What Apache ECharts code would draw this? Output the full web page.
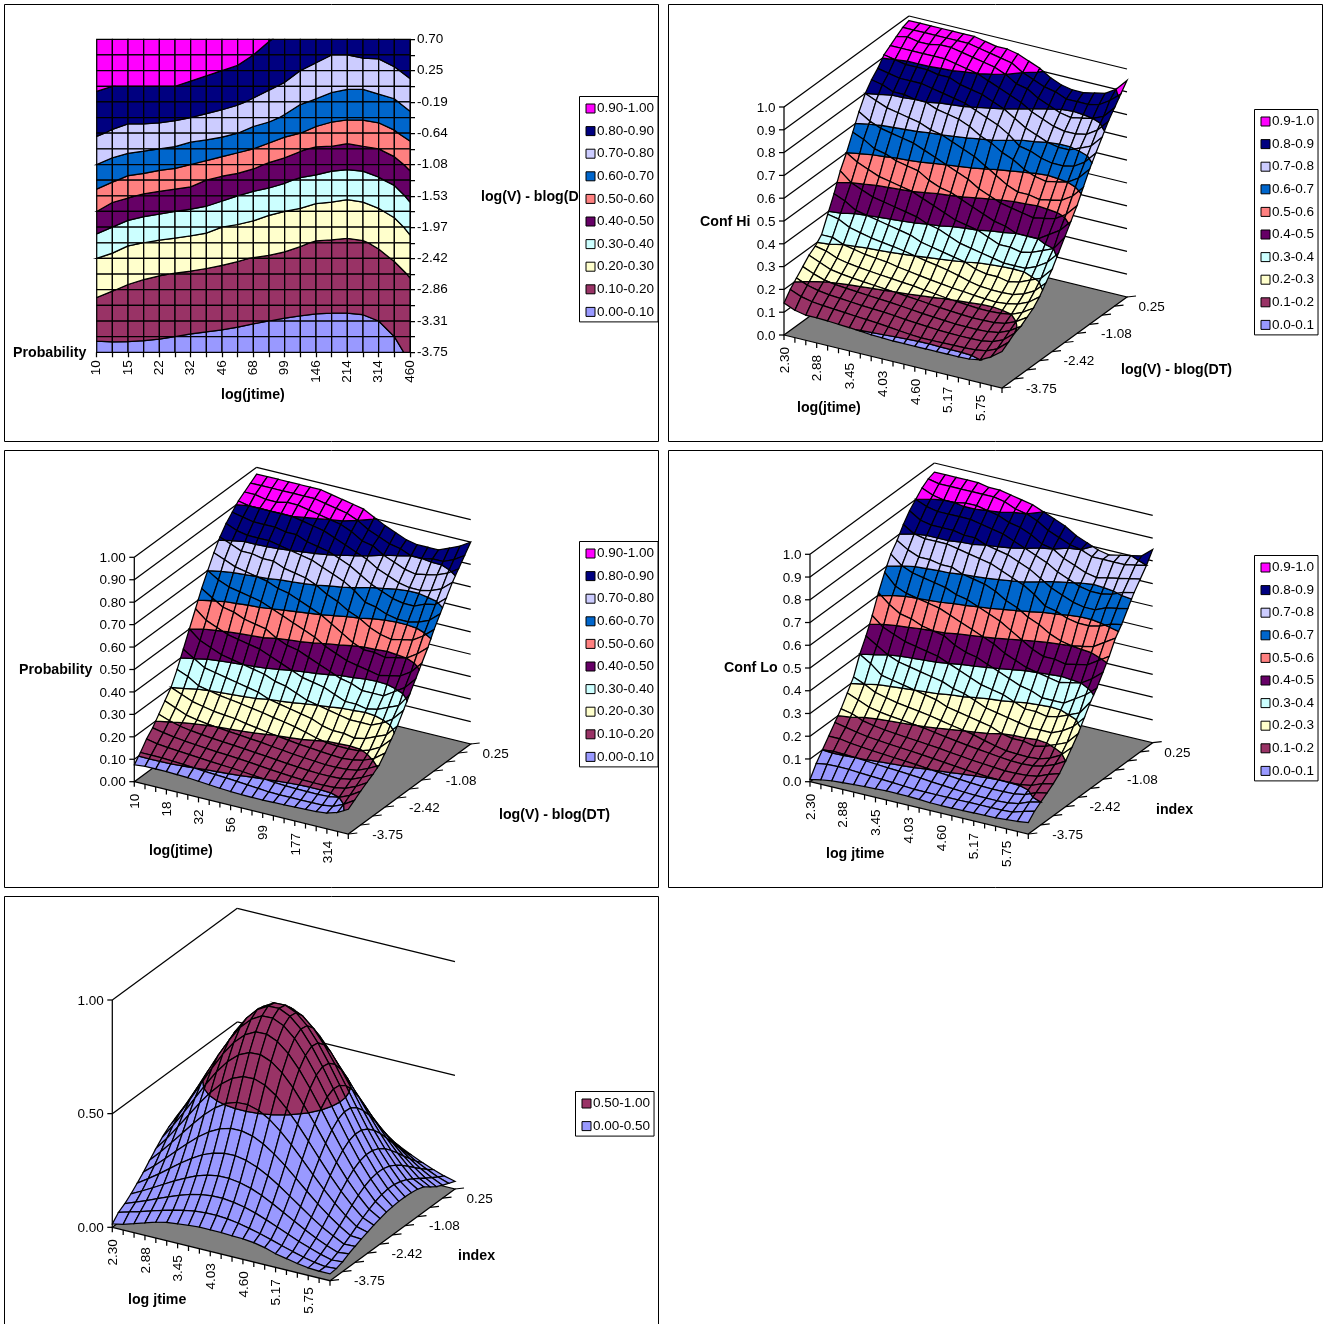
<!DOCTYPE html>
<html><head><meta charset="utf-8">
<style>html,body{margin:0;padding:0;background:#fff;overflow:hidden}#c{width:1329px;height:1324px}</style>
<script src="https://cdn.jsdelivr.net/npm/echarts@6/dist/echarts.min.js"></script>
</head><body><div id="c"></div>
<script>
// ---- categories and tick labels ----
const jtime = ['10','12','15','18','22','27','32','38','46','56','68','82','99','121','146','177','214','259','314','380','460'];
const logJtime = ['2.30','2.49','2.69','2.88','3.07','3.26','3.45','3.64','3.84','4.03','4.22','4.41','4.60','4.79','4.98','5.17','5.36','5.56','5.75','5.94','6.13'];
const logV = ['0.70','0.48','0.25','0.03','-0.19','-0.42','-0.64','-0.86','-1.08','-1.31','-1.53','-1.75','-1.97','-2.20','-2.42','-2.64','-2.86','-3.09','-3.31','-3.53','-3.75'];
const bandNames2 = ['0.90-1.00','0.80-0.90','0.70-0.80','0.60-0.70','0.50-0.60','0.40-0.50','0.30-0.40','0.20-0.30','0.10-0.20','0.00-0.10'];
const bandNames1 = ['0.9-1.0','0.8-0.9','0.7-0.8','0.6-0.7','0.5-0.6','0.4-0.5','0.3-0.4','0.2-0.3','0.1-0.2','0.0-0.1'];
const bandNamesBell = ['0.50-1.00','0.00-0.50'];
const bandColors = ['#FF00FF','#000080','#CCCCFF','#0066CC','#FF8080','#660066','#CCFFFF','#FFFFCC','#993366','#9999FF'];
const bellColors = ['#993366','#9999FF'];
const tenBands = [100,90,80,70,60,50,40,30,20,10,0];
const bellBands = [100,50,0];

// ---- surface values in percent ----
// *Upper: one list per log(jtime) column, log(V) rows 0-12.  *Lower: one list per log(V) row 13-20, across the columns.
const probabilityUpper = [
[97,95,93,91,88,85,81,76,70,64,57,50,43],
[97,95,93,90,87,83,79,74,67,61,53,46,40],
[97,95,92,90,86,82,77,72,65,58,51,44,37],
[97,95,92,90,86,82,77,71,64,57,49,42,36],
[97,95,93,90,86,82,76,70,63,55,48,41,35],
[97,95,93,90,85,81,76,69,62,54,47,40,34],
[97,95,92,89,85,80,74,67,60,53,46,39,33],
[96,94,91,88,83,79,73,66,58,50,44,38,32],
[95,93,90,87,82,78,72,64,56,48,42,36,30],
[94,92,89,85,81,76,70,62,54,47,40,35,29],
[93,90,87,83,79,74,67,60,52,45,38,33,28],
[90.5,87,84,81,77,72,65,57,49,43,37,31,27],
[88,85,83,79,74,69,62,54,47,41,36,30,26],
[86,83,80,76,71,65,60,51,45,39,34,29,24],
[84,82,78,74,69,64,57,49,44,38,32,28,23],
[83,80,76,72,67,62,55,49,43,36,32,27,23],
[83,80,75,71,66,61,54,48,42,36,31,27,22],
[83,81,76,71,66,61,55,49,43,36,32,27,23],
[85,81,77,72,68,62,56,50,44,39,34,29,25],
[87,83,79,74,69,64,59,53,47,42,36,32,27],
[90,86,82,78,73,68,63,57,52,47,42,37,32]];
const probabilityLower = [
[36,34,31,30,29,28.3,27.6,26.8,26,25,24.2,23.2,22,20.6,19.6,19.3,19.2,19.5,21,23.5,28],
[30,28,26,25,24,23.5,23,22,21.3,20.5,19.8,19.2,18.6,18.2,17.7,17.3,17,17.5,18.5,20.5,24],
[26,24,22,21,20.3,19.8,19.3,18.9,18.4,18,17.3,16.8,16.2,15.8,15.4,15,15,15.3,16,18,20.5],
[22,20.3,19,18.2,17.6,17.1,16.7,16.3,15.9,15.4,15,14.5,14,13.6,13.2,13,13,13.2,14,16,18.5],
[18,17,16.2,15.6,15.1,14.7,14.3,14,13.6,13.2,12.7,12.2,11.8,11.4,11.1,11,11,11.2,12,14,16.8],
[15,14,13.5,13.1,12.7,12.3,11.9,11.6,11.3,10.9,10.4,10,9.6,9.3,9.1,9,9,9.2,10,12,15],
[11,11,10.9,10.7,10.4,10,9.6,9.3,9,8.6,8.2,7.8,7.4,7.3,7.3,7.3,7.3,7.4,8,10,13],
[7.5,8,8,8,7.8,7.6,7.2,6.8,6.4,6.1,5.9,5.8,5.8,5.9,6,6.2,6.3,6.5,7,8.5,11]];
const confHiUpper = [
[98,97,95,93,91,87,84,80,74,67,60,54,46],
[98,97,96,93,90,86,83,78,71,65,57,50,44],
[98,97,95,93,89,85,81,76,69,62,55,48,41],
[98,97,95,93,89,85,81,75,68,61,53,46,40],
[98,97,96,93,89,85,80,74,67,59,52,45,39],
[98,97,96,93,88,84,80,73,66,58,51,44,38],
[98,97,95,92,88,83,78,71,64,57,50,43,37],
[97,96,94,91,86,82,77,70,62,54,48,42,36],
[96,95,93,90,85,81,76,68,60,52,46,40,34],
[96,94,92,88,84,79,74,66,58,51,44,39,33],
[95,93,90,86,82,77,71,64,56,49,42,37,32],
[93,90,87,84,80,75,69,61,53,47,41,35,31],
[91,88,86,82,77,72,66,58,51,45,40,34,30],
[88,86,83,79,74,68,64,55,49,43,38,33,28],
[86,85,81,77,72,67,61,53,48,42,36,32,27],
[85,83,79,75,70,65,59,53,47,40,36,31,27],
[85,83,78,74,69,64,58,52,46,40,35,31,26],
[86,83,79,74,69,64,59,53,47,40,36,31,27],
[87,84,80,75,71,65,60,54,48,43,38,33,29],
[90,87,82,78,73,68,63,57,51,46,40,36,31],
[95,91,87,83,78,73,68,62,56,51,46,41,36]];
const confHiLower = [
[39,38,35.5,34.3,33.2,32.5,31.8,31,30,29,28.2,27.2,26,24.6,23.6,23.3,23.2,23.5,25,27.5,32],
[32,32,30,29,28,27.5,27,26,25.3,24.5,23.8,23.2,22.6,22.2,21.7,21.3,21,21.5,22.5,24.5,28],
[29,28,26,25,24.3,23.8,23.3,22.9,22.4,22,21.3,20.8,20.2,19.8,19.4,19,19,19.3,20,22,25],
[27,25,23,22.2,21.6,21.1,20.7,20.3,19.9,19.4,19,18.5,18,17.6,17.2,17,17,17.2,18,20,23],
[24,22,20.4,19.6,19.1,18.7,18.3,18,17.6,17.2,16.7,16.2,15.8,15.4,15.1,15,15,15.2,16,18,21],
[21,19,17.8,17.1,16.7,16.3,15.9,15.6,15.3,14.9,14.4,14,13.6,13.3,13.1,13,13,13.2,14,16,20],
[18,16,14.9,14.4,14,13.6,13.2,12.9,12.5,12,11.5,11,10.7,10.7,10.8,10.9,11,11.2,12,14,18],
[14,12,11,11,10.8,10.5,10.2,9.8,9.4,9.2,9,9,9,9,9,9,9,9.2,10,12.5,16]];
const confLoUpper = [
[96,95,93,90,87,83,78,74,68,61,53,46,40],
[96,94,91,88,84,80,75,70,63,57,49,43,37],
[96,94,90,87,83,79,73,68,61,54,47,40,33],
[96,94,90,87,83,79,73,67,60,53,45,38,32],
[96,94,91,87,83,79,72,66,59,51,44,37,31],
[95,94,91,87,82,78,72,65,58,50,43,36,30],
[95,94,90,86,82,77,70,63,56,49,42,35,29],
[94,93,89,85,80,76,69,62,54,46,40,34,28],
[93,91,87,84,79,75,68,60,52,44,38,32,26],
[92,90,86,82,78,73,66,58,50,43,36,31,25],
[90,88,84,80,76,71,63,56,48,41,34,29,24],
[88,85,81,78,74,69,61,53,45,39,33,27,23],
[86,83,80,76,71,66,58,50,43,37,32,26,22],
[83,81,77,73,68,62,56,47,41,35,30,25,20],
[81,80,75,71,66,61,53,45,40,34,28,24,19],
[79,78,73,69,64,59,51,45,39,32,28,23,19],
[78,78,72,68,63,58,50,44,38,32,27,23,18],
[79,78,73,68,63,58,51,45,39,32,28,23,19],
[80,78,74,69,65,59,52,46,40,35,30,25,21],
[81,79,75,71,66,61,55,49,43,38,32,28,23],
[85,80,76,72,67,62,58,52,47,42,38,33,28]];
const confLoLower = [
[32,30,27.5,26.3,25.2,24.5,23.8,23,22,21,20.2,19.2,17.8,16.6,15.6,15.3,15.2,15.5,17,19.5,24],
[27,25,23,22,21.3,20.8,20.2,19.6,18.8,18,17.3,16.6,16,15.4,14.8,14.4,14.2,14.5,15.5,17.3,20],
[22,21,19,18,17.3,16.8,16.3,15.9,15.4,15,14.3,13.8,13.2,12.8,12.4,12,12,12.3,13,15,16.5],
[18,17,16,15.2,14.7,14.2,13.8,13.4,13,12.5,12,11.5,11,10.6,10.2,10,10,10.2,11,13,14],
[14,14,13.2,12.7,12.2,11.8,11.4,11.1,10.7,10.2,9.7,9.3,8.8,8.4,8.1,8,8,8.2,9,11,12],
[10,10.5,10.3,10,9.7,9.3,9,8.7,8.3,7.9,7.4,7,6.6,6.3,6.1,6,6,6.2,7,9,10],
[6,6.8,6.9,6.8,6.5,6.2,5.9,5.6,5.3,5,4.9,4.9,4.9,4.9,5,5,5,5,5.3,6.8,8],
[1,2,2.7,3,3.3,3.6,3.8,4,4,3.9,3.7,3.4,3.3,3.3,3.4,3.5,3.6,3.7,4,4.4,5]];
// bell surface: one list per log(V) row, across the log jtime columns
const bellRows = [
[7.7,9.8,12.1,14.5,16.9,19.1,21,22.3,23.1,23.2,22.5,21.3,19.5,17.4,15.1,12.6,10.3,8.1,6.2,4.6,3.4],
[10.2,13,16.1,19.2,22.4,25.3,27.8,29.6,30.5,30.6,29.8,28.2,25.8,23,19.9,16.7,13.6,10.7,8.3,6.1,4.5],
[13.1,16.7,20.6,24.7,28.8,32.5,35.7,37.9,39.2,39.3,38.3,36.2,33.2,29.6,25.6,21.4,17.5,13.8,10.6,7.9,5.7],
[16.2,20.6,25.5,30.5,35.6,40.2,44.1,46.9,48.5,48.6,47.3,44.7,41,36.5,31.6,26.5,21.6,17,13.1,9.7,7.1],
[19.4,24.7,30.4,36.5,42.5,48,52.7,56,57.9,58.1,56.5,53.4,49,43.7,37.8,31.7,25.8,20.4,15.7,11.6,9],
[22.4,28.5,35.1,42.1,49.1,55.4,60.8,64.7,66.9,67.1,65.3,61.7,56.6,50.4,43.6,36.6,29.8,23.5,18.1,13.4,11],
[25,31.8,39.2,47,54.8,61.9,67.9,72.2,74.6,74.9,72.8,68.9,63.2,56.3,48.7,40.8,33.2,26.3,20.2,15,12],
[26.9,34.3,42.3,50.7,59.1,66.7,73.2,77.9,80.5,80.7,78.6,74.3,68.1,60.7,52.5,44,35.8,28.3,21.8,16.2,12.5],
[28.1,35.7,44.1,52.9,61.5,69.5,76.3,81.2,83.9,84.1,81.9,77.4,71,63.2,54.7,45.9,37.3,29.5,22.7,16.9,12.7],
[28.3,36,44.4,53.2,62,70,76.8,81.8,84.5,84.7,82.4,77.9,71.5,63.7,55.1,46.2,37.6,29.7,22.8,17,12.7],
[27.5,35,43.2,51.8,60.3,68.1,74.8,79.5,82.2,82.4,80.2,75.8,69.5,62,53.6,44.9,36.6,28.9,22.2,16.5,12.4],
[25.8,32.9,40.6,48.7,56.6,64,70.2,74.7,77.2,77.4,75.3,71.2,65.3,58.2,50.4,42.2,34.4,27.2,20.9,15.5,12],
[23.5,29.9,36.9,44.2,51.5,58.2,63.8,67.9,70.1,70.4,68.5,64.7,59.4,52.9,45.8,38.4,31.2,24.7,19,14.1,11.2],
[20.6,26.2,32.4,38.8,45.2,51.1,56,59.6,61.6,61.8,60.1,56.8,52.1,46.4,40.2,33.7,27.4,21.7,16.7,12.4,10.3],
[17.5,22.3,27.5,32.9,38.3,43.3,47.5,50.6,52.2,52.4,51,48.2,44.2,39.4,34.1,28.6,23.3,18.4,14.1,10.5,9.2],
[14.3,18.2,22.5,27,31.4,35.5,38.9,41.4,42.8,42.9,41.8,39.5,36.2,32.3,27.9,23.4,19,15.1,11.6,8.6,8.2],
[11.4,14.5,17.8,21.4,24.9,28.1,30.9,32.8,33.9,34,33.1,31.3,28.7,25.6,22.1,18.6,15.1,11.9,9.2,6.8,7],
[8.7,11.1,13.7,16.4,19.1,21.5,23.6,25.1,26,26,25.3,24,22,19.6,16.9,14.2,11.6,9.1,7,5.2,5.8],
[6.4,8.2,10.1,12.1,14.1,15.9,17.5,18.6,19.2,19.3,18.7,17.7,16.3,14.5,12.5,10.5,8.5,6.8,5.2,3.9,4.2],
[4.6,5.9,7.2,8.7,10.1,11.4,12.5,13.3,13.7,13.8,13.4,12.7,11.6,10.4,9,7.5,6.1,4.8,3.7,3,3.3],
[1.5,2.5,4,5.5,7,8,8.6,9.1,9.5,9.5,9.4,9.2,9,8.5,7.5,6,5,4,3.3,3,3]];

// A table the renderer can index as table[column][row].
function joinRows(upper, lower){
  return upper.map((col,i)=>col.concat(lower.map(row=>row[i])));
}
const probability = joinRows(probabilityUpper, probabilityLower);
const confHi = joinRows(confHiUpper, confHiLower);
const confLo = joinRows(confLoUpper, confLoLower);
const bell = joinRows(jtime.map(()=>[]), bellRows);

// ---- layout ----
const FONT = '"Liberation Sans", Arial, sans-serif';
const LABEL = '13.5px ' + FONT, TITLE = 'bold 14.2px ' + FONT;
const LW = 1.25;
const frames = [
 {left:4.5,top:4.5,h:437},{left:668.5,top:4.5,h:437},{left:4.5,top:450.5,h:437},{left:668.5,top:450.5,h:437},{left:4.5,top:896.5,h:427.5,open:true}];
const FW = 654;
const views = [
 null,
 {A:[784,335],B:[1002,388],C:[1127,297],H:228, xLabels:logJtime, zTicks:[0,.1,.2,.3,.4,.5,.6,.7,.8,.9,1], zFmt:1, values:confHi, bands:tenBands, colors:bandColors},
 {A:[134.3,781.7],B:[348.3,834],C:[470.7,744],H:224.4, xLabels:jtime, zTicks:[0,.1,.2,.3,.4,.5,.6,.7,.8,.9,1], zFmt:2, values:probability, bands:tenBands, colors:bandColors},
 {A:[810,781.7],B:[1028.3,834],C:[1152.7,742.7],H:227.4, xLabels:logJtime, zTicks:[0,.1,.2,.3,.4,.5,.6,.7,.8,.9,1], zFmt:1, values:confLo, bands:tenBands, colors:bandColors},
 {A:[112.3,1227.3],B:[330,1280.7],C:[455,1189],H:227.3, xLabels:logJtime, zTicks:[0,.5,1], zFmt:2, values:bell, bands:bellBands, colors:bellColors}
];
const titles = [
 [['Probability',13,353],['log(jtime)',221,395],['log(V) - blog(DT)',481,197]],
 [['Conf Hi',700,222],['log(jtime)',797,408],['log(V) - blog(DT)',1121,370]],
 [['Probability',19,670],['log(jtime)',149,851],['log(V) - blog(DT)',499,815]],
 [['Conf Lo',724,668],['log jtime',826,854],['index',1156,810]],
 [['log jtime',128,1300],['index',458,1256]]
];
const legends = [
 {names:bandNames2,left:579.5,top:96.5},
 {names:bandNames1,left:1254.5,top:109.5},
 {names:bandNames2,left:579.5,top:541.5},
 {names:bandNames1,left:1254.5,top:555.5},
 {names:bandNamesBell,left:575.5,top:1091.5}
];

// ---- helpers ----
function clip(poly, level, above){
  const out=[];
  for(let k=0;k<poly.length;k++){
    const a=poly[k], b=poly[(k+1)%poly.length];
    const ia = above ? a[2]>=level : a[2]<=level;
    const ib = above ? b[2]>=level : b[2]<=level;
    if(ia) out.push(a);
    if(ia!==ib){
      const t=(level-a[2])/(b[2]-a[2]);
      out.push([a[0]+t*(b[0]-a[0]), a[1]+t*(b[1]-a[1]), level]);
    }
  }
  return out;
}
function cells(values){
  const d=[];
  for(let j=0;j<values[0].length-1;j++)
    for(let i=0;i<values.length-1;i++)
      d.push([i,j,values[i][j],values[i+1][j],values[i+1][j+1],values[i][j+1]]);
  return d;
}
function surfaceRender(bands,colors,project){
  return function(params,api){
    const i=api.value(0), j=api.value(1);
    const q=[[i,j,api.value(2)],[i+1,j,api.value(3)],[i+1,j+1,api.value(4)],[i,j+1,api.value(5)]];
    const children=[];
    for(let b=colors.length-1;b>=0;b--){
      let p=clip(q,bands[b+1],true);
      if(p.length>=3) p=clip(p,bands[b],false);
      if(p.length>=3){
        children.push({type:'polygon',shape:{points:p.map(v=>project(api,v[0],v[1],v[2]))},
          style:{fill:colors[b],stroke:'#000',lineWidth:LW}});
      }
    }
    return {type:'group',children};
  };
}
function line(p,q){return {type:'line',shape:{x1:p[0],y1:p[1],x2:q[0],y2:q[1]},style:{stroke:'#000',lineWidth:LW}};}
function text(s,x,y,font,align,vAlign,rot){
  return {type:'text',x,y,rotation:rot||0,style:{text:s,font,fill:'#000',align,verticalAlign:vAlign}};
}
function viewProject(v){
  const D=[v.A[0]+v.C[0]-v.B[0], v.A[1]+v.C[1]-v.B[1]];
  const ex=[(v.C[0]-D[0])/20,(v.C[1]-D[1])/20], ey=[(v.A[0]-D[0])/20,(v.A[1]-D[1])/20];
  v.D=D;
  return (i,j,z)=>[D[0]+i*ex[0]+j*ey[0], D[1]+i*ex[1]+j*ey[1]-z*v.H];
}
function frameRender(idx){
  return function(params,api){
    const c=p=>api.coord(p), kids=[];
    const f=frames[idx];
    if(f.open){
      const L=f.left,R=f.left+FW,T=f.top,Bt=f.top+f.h+2;
      [[[L,Bt],[L,T]],[[L,T],[R,T]],[[R,T],[R,Bt]]].forEach(s=>{
        kids.push({type:'line',shape:{x1:s[0][0],y1:s[0][1],x2:s[1][0],y2:s[1][1]},style:{stroke:'#000',lineWidth:1}});
      });
    }
    titles[idx].forEach(t=>kids.push(text(t[0],t[1],t[2],TITLE,'left','middle')));
    const v=views[idx];
    if(v){
      const P=viewProject(v);
      kids.push({type:'polygon',shape:{points:[v.A,v.B,v.C,v.D].map(c)},style:{fill:'#808080',stroke:'#000',lineWidth:LW}});
      v.zTicks.forEach(z=>{
        const a=P(0,20,z), d=P(0,0,z), r=P(20,0,z);
        kids.push(line(c([a[0]-5,a[1]]),c(a)));
        if(z>0){kids.push(line(c(a),c(d)));kids.push(line(c(d),c(r)));}
        const t=c([a[0]-8.5,a[1]+1]);
        kids.push(text(z.toFixed(v.zFmt),t[0],t[1],LABEL,'right','middle'));
      });
      kids.push(line(c(P(0,20,0)),c(P(0,20,1))));
      for(let i=0;i<=20;i++){
        const a=P(i,20,0);
        kids.push(line(c(a),c([a[0],a[1]+5])));
        if(i%3===0&&i<=18){
          const t=c([a[0]+1,a[1]+12]);
          kids.push(text(v.xLabels[i],t[0],t[1],LABEL,'right','middle',Math.PI/2));
        }
      }
      for(let j=0;j<=20;j+=2){
        const a=P(20,j,0);
        kids.push(line(c(a),c([a[0]+9,a[1]-1])));
        if((j-2)%6===0){
          const t=c([a[0]+24,a[1]+1]);
          kids.push(text(logV[j],t[0],t[1],LABEL,'left','middle'));
        }
      }
    }
    return {type:'group',children:kids};
  };
}

// ---- option ----
const grid=[],xAxis=[],yAxis=[],series=[];
frames.forEach((f,k)=>{
  grid.push({show:true,left:f.left,top:f.top,width:FW,height:f.h,borderColor:f.open?'#fff':'#000',borderWidth:f.open?0:1,backgroundColor:'#fff'});
  xAxis.push({gridIndex:k,type:'value',min:f.left,max:f.left+FW,show:false});
  yAxis.push({gridIndex:k,type:'value',min:f.top,max:f.top+f.h,inverse:true,show:false});
  series.push({type:'custom',name:'frame'+k,coordinateSystem:'cartesian2d',xAxisIndex:k,yAxisIndex:k,
    data:[[f.left,f.top]],renderItem:frameRender(k),clip:false,silent:true,animation:false,z:2});
});
// contour panel: real category axes
grid.push({left:96.7,top:39.3,width:313.3,height:313,show:false});
const axisStyle={lineStyle:{color:'#000',width:1}};
xAxis.push({gridIndex:5,type:'category',boundaryGap:false,data:jtime,axisLine:axisStyle,
  axisTick:{show:true,interval:0,length:5,lineStyle:{color:'#000',width:LW}},
  axisLabel:{interval:1,rotate:90,margin:8,color:'#000',fontSize:13.5,fontFamily:FONT},splitLine:{show:false}});
yAxis.push({gridIndex:5,type:'category',position:'right',inverse:true,boundaryGap:false,data:logV,axisLine:axisStyle,
  axisTick:{show:true,interval:0,length:5,lineStyle:{color:'#000',width:LW}},
  axisLabel:{interval:1,margin:7,color:'#000',fontSize:13.5,fontFamily:FONT,padding:[4,0,0,0]},splitLine:{show:false}});
series.push({type:'custom',name:'Probability contour',coordinateSystem:'cartesian2d',xAxisIndex:5,yAxisIndex:5,
  data:cells(probability),encode:{x:0,y:1},clip:false,silent:true,animation:false,progressive:0,z:3,
  // the category scale only takes whole indices, so fractional contour points are placed between them
  renderItem:surfaceRender(tenBands,bandColors,(api,i,j)=>{
    const o=api.coord([0,0]), e=api.coord([20,20]);
    return [o[0]+(e[0]-o[0])*i/20, o[1]+(e[1]-o[1])*j/20];
  })});
views.forEach((v,k)=>{
  if(!v) return;
  const P=viewProject(v);
  series.push({type:'custom',name:'surface'+k,coordinateSystem:'cartesian2d',xAxisIndex:k,yAxisIndex:k,
    data:cells(v.values),encode:{x:0,y:1},clip:false,silent:true,animation:false,progressive:0,z:3,
    renderItem:surfaceRender(v.bands,v.colors,(api,i,j,z)=>api.coord(P(i,j,z/100)))});
});
// legend-only series
[[bandNames2,bandColors],[bandNames1,bandColors],[bandNamesBell,bellColors]].forEach(([names,cols])=>{
  names.forEach((n,b)=>{
    if(series.some(s=>s.name===n)) return;
    series.push({type:'custom',name:n,coordinateSystem:'cartesian2d',xAxisIndex:0,yAxisIndex:0,data:[],
      renderItem:()=>null,itemStyle:{color:cols[b]},color:cols[b],animation:false});
  });
});
const legend=legends.map(l=>({show:true,orient:'vertical',left:l.left,top:l.top,data:l.names.map(n=>({name:n,icon:'rect'})),
  selectedMode:false,backgroundColor:'#fff',borderColor:'#000',borderWidth:1,borderRadius:0,
  padding:[5,4,3,6],itemWidth:9,itemHeight:9,itemGap:8.6,inactiveColor:'#000',
  itemStyle:{borderColor:'#000',borderWidth:1},
  textStyle:{color:'#000',fontSize:13.5,fontFamily:FONT,padding:[0,0,0,-3]},z:10}));

const chart=echarts.init(document.getElementById('c'),null,{renderer:'canvas',width:1329,height:1324});
chart.setOption({animation:false,tooltip:{show:false},grid,xAxis,yAxis,series,legend});
</script></body></html>
